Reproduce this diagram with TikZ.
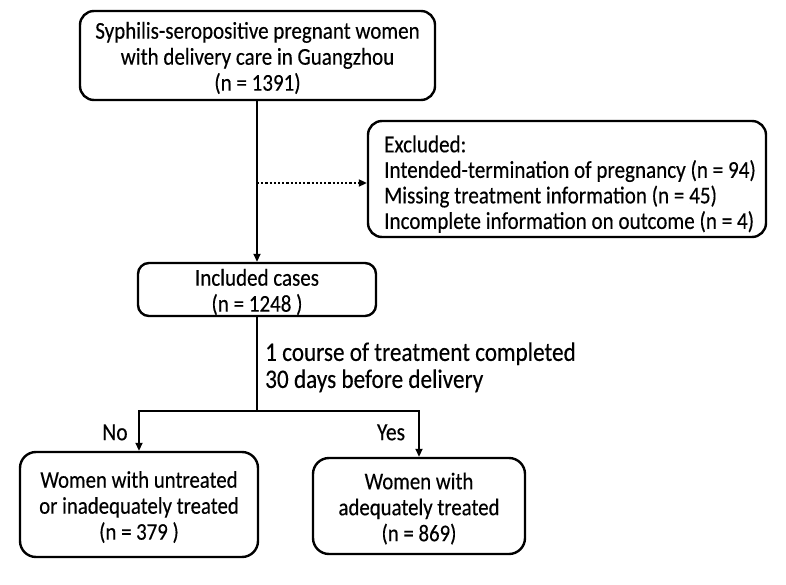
\documentclass[tikz,border=0pt]{standalone}
\usepackage{fontspec}
\usepackage{graphicx}
\setmainfont{Carlito}[FakeBold=0.35]
\usetikzlibrary{arrows.meta}
\newcommand{\vtxt}[2][c]{\raisebox{-4pt}[\height][\depth]{\scalebox{1}[1.15]{\begin{tabular}{@{}#1@{}}#2\end{tabular}}}}
\begin{document}
\begin{tikzpicture}[x=1pt,y=-1pt,
  box/.style={draw=black, line width=2.4pt, rounded corners=14pt, align=center,
    inner sep=0pt, font=\fontsize{21}{22.6}\selectfont},
  conn/.style={line width=1.8pt},
  arr/.style={conn, -{Triangle[length=8pt,width=7pt]}},
  lbl/.style={inner sep=0pt, font=\fontsize{21.5}{22.6}\selectfont}]
\useasboundingbox (0,0) rectangle (786,585);
\node[box, minimum width=355pt, minimum height=89pt] (top) at (257.5,55.5)
  {\vtxt{Syphilis-seropositive pregnant women\\with delivery care in Guangzhou\\(n = 1391)}};
\node[box, minimum width=398pt, minimum height=116pt] (ex) at (567,179) {};
\node[lbl, anchor=west, font=\fontsize{21.1}{22.2}\selectfont] (extext) at (384,181.5)
  {\vtxt[l]{Excluded:\\Intended-termination of pregnancy (n = 94)\\Missing treatment information (n = 45)\\Incomplete information on outcome (n = 4)}};
\node[box, rounded corners=11pt, minimum width=238pt, minimum height=53pt] (inc) at (257,289.5)
  {\vtxt{Included cases\\(n = 1248 )}};
\node[box, rounded corners=16pt, minimum width=238pt, minimum height=105pt,
  font=\fontsize{20.8}{22.6}\selectfont] (L) at (139,504.5)
  {\vtxt{Women with untreated\\or inadequately treated\\(n = 379 )}};
\node[box, rounded corners=16pt, minimum width=212pt, minimum height=96pt,
  font=\fontsize{20.8}{22.6}\selectfont] (R) at (419,506)
  {\vtxt{Women with\\adequately treated\\(n = 869)}};
\node[lbl, anchor=west, font=\fontsize{23.2}{23.5}\selectfont] (cond) at (265,365)
  {\vtxt[l]{1 course of treatment completed\\30 days before delivery}};
\node[lbl] (no) at (115,431) {\vtxt{No}};
\node[lbl] (yes) at (391,431) {\vtxt{Yes}};
\coordinate (d) at (257,183);
\coordinate (br) at (257,411);
\draw[arr] (top.south -| inc.north) -- (inc.north);
\draw[conn, line width=2.2pt, dash pattern=on 2.2pt off 2pt, -{Triangle[length=8pt,width=7pt]}] (d) -- (d -| ex.west);
\draw[conn] (inc.south) -- (br);
\draw[arr] (br) -| (L.north);
\draw[arr] (br) -| (R.north);
\end{tikzpicture}
\end{document}
